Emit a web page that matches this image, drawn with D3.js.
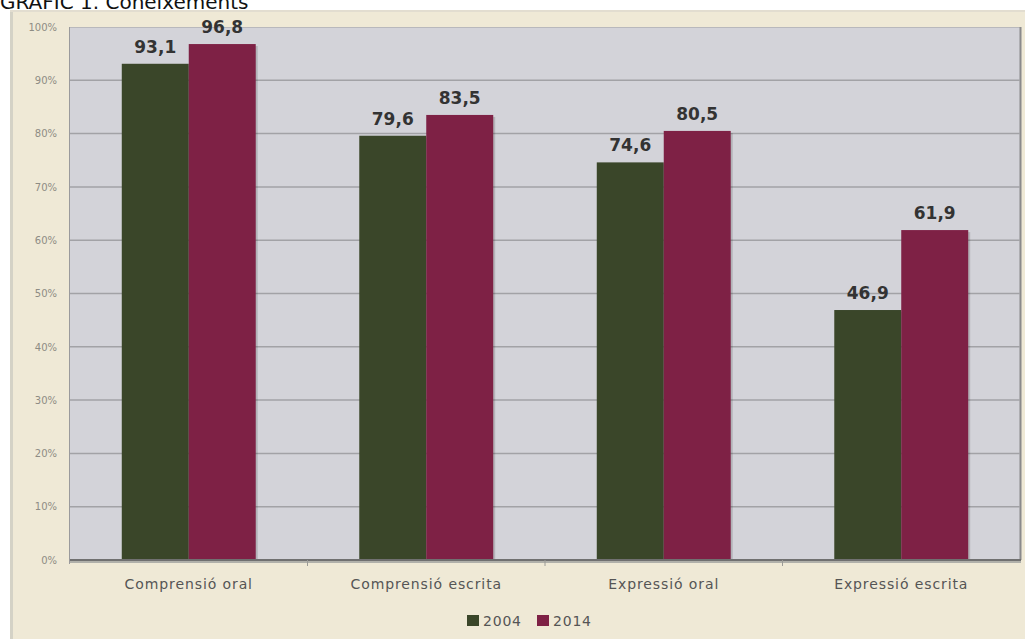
<!DOCTYPE html>
<html>
<head>
<meta charset="utf-8">
<script src="https://cdn.jsdelivr.net/npm/d3@7"></script>
<style>
  html, body { margin: 0; padding: 0; background: #ffffff; }
  svg { display: block; }
</style>
</head>
<body>
<svg id="chart" width="1025" height="639"></svg>
<script>
const title = "GRÀFIC 1. Coneixements";
const categories = ["Comprensió oral", "Comprensió escrita", "Expressió oral", "Expressió escrita"];
const seriesNames = ["2004", "2014"];
const values2004 = [93.1, 79.6, 74.6, 46.9];
const values2014 = [96.8, 83.5, 80.5, 61.9];
const yTicks = [0, 10, 20, 30, 40, 50, 60, 70, 80, 90, 100];
const colors = ["#3a4629", "#7e2145"];

const svg = d3.select("#chart");
const W = 1025, H = 639;
const plot = { left: 70, right: 1020, top: 27, bottom: 560 };

// title (partly cut at top, as in the reference)
svg.append("text").attr("x", 0).attr("y", 9)
  .attr("font-family", "DejaVu Sans, sans-serif").attr("font-size", 20)
  .attr("fill", "#111").text(title);

// outer beige box
svg.append("rect").attr("x", 10).attr("y", 10).attr("width", W - 10).attr("height", H - 10)
  .attr("fill", "#efe9d6");
svg.append("rect").attr("x", 10).attr("y", 10).attr("width", 3).attr("height", H - 10)
  .attr("fill", "#d4d2c6");
svg.append("rect").attr("x", 10).attr("y", 10).attr("width", W - 10).attr("height", 2)
  .attr("fill", "#e2ddd0");

const y = d3.scaleLinear().domain([0, 100]).range([plot.bottom, plot.top]);
const x0 = d3.scaleBand().domain(categories).range([plot.left, plot.right])
  .paddingInner(0.436).paddingOuter(0.218);
const x1 = d3.scaleBand().domain(seriesNames).range([0, x0.bandwidth()]);

// plot background
svg.append("rect").attr("x", plot.left).attr("y", plot.top)
  .attr("width", plot.right - plot.left).attr("height", plot.bottom - plot.top)
  .attr("fill", "#d3d3d9");
// plot borders
svg.append("line").attr("x1", plot.left).attr("x2", plot.right).attr("y1", plot.top + 0.5).attr("y2", plot.top + 0.5)
  .attr("stroke", "#b8b8bc").attr("stroke-width", 1);
svg.append("line").attr("x1", plot.right + 0.5).attr("x2", plot.right + 0.5).attr("y1", plot.top).attr("y2", plot.bottom)
  .attr("stroke", "#8a8a8c").attr("stroke-width", 2);
svg.append("line").attr("x1", plot.left - 0.5).attr("x2", plot.left - 0.5).attr("y1", plot.top).attr("y2", plot.bottom + 4)
  .attr("stroke", "#9a9a9c").attr("stroke-width", 1);

// gridlines
svg.append("g").selectAll("line").data(yTicks.filter(t => t > 0 && t < 100)).join("line")
  .attr("x1", plot.left).attr("x2", plot.right)
  .attr("y1", d => y(d)).attr("y2", d => y(d))
  .attr("stroke", "#a2a2a6").attr("stroke-width", 1.5);

// y axis labels
const yAxis = d3.axisLeft(y).tickValues(yTicks).tickFormat(d => d + "%").tickSize(0).tickPadding(13);
const gy = svg.append("g").attr("transform", `translate(${plot.left},0)`).call(yAxis);
gy.select(".domain").remove();
gy.selectAll("text").attr("font-family", "DejaVu Sans, sans-serif").attr("font-size", 10)
  .attr("fill", "#8e8c84");

// bars
const data = categories.map((c, i) => ({ cat: c, vals: [values2004[i], values2014[i]] }));
const groups = svg.append("g").selectAll("g").data(data).join("g")
  .attr("transform", d => `translate(${x0(d.cat)},0)`);

// shadow
groups.selectAll("rect.sh").data(d => d.vals.map((v, j) => ({ v, s: seriesNames[j], j }))).join("rect")
  .attr("class", "sh")
  .attr("x", d => x1(d.s) + 2).attr("y", d => y(d.v) + 2)
  .attr("width", x1.bandwidth()).attr("height", d => plot.bottom - y(d.v) - 2)
  .attr("fill", "rgba(0,0,0,0.15)");

groups.selectAll("rect.bar").data(d => d.vals.map((v, j) => ({ v, s: seriesNames[j], j }))).join("rect")
  .attr("class", "bar")
  .attr("x", d => x1(d.s)).attr("y", d => y(d.v))
  .attr("width", x1.bandwidth()).attr("height", d => plot.bottom - y(d.v))
  .attr("fill", d => colors[d.j]);

groups.selectAll("text.val").data(d => d.vals.map((v, j) => ({ v, s: seriesNames[j], j }))).join("text")
  .attr("class", "val")
  .attr("x", d => x1(d.s) + x1.bandwidth() / 2).attr("y", d => y(d.v) - 11)
  .attr("text-anchor", "middle")
  .attr("font-family", "DejaVu Sans, sans-serif").attr("font-weight", "bold").attr("font-size", 17)
  .attr("fill", "#333")
  .text(d => d3.format(".1f")(d.v).replace(".", ","));

// x axis
svg.append("line").attr("x1", plot.left).attr("x2", plot.right + 1).attr("y1", plot.bottom + 2).attr("y2", plot.bottom + 2)
  .attr("stroke", "#b0b0aa").attr("stroke-width", 2);
svg.append("line").attr("x1", plot.left).attr("x2", plot.right + 1).attr("y1", plot.bottom).attr("y2", plot.bottom)
  .attr("stroke", "#707070").attr("stroke-width", 2);

// category separators (ticks below axis)
const sepX = categories.slice(1).map(c => x0(c) - x0.step() * x0.paddingInner() / 2);
svg.append("g").selectAll("line").data(sepX).join("line")
  .attr("x1", d => d).attr("x2", d => d).attr("y1", plot.bottom).attr("y2", plot.bottom + 6)
  .attr("stroke", "#9a9a96").attr("stroke-width", 1);

// category labels
const xAxis = d3.axisBottom(x0).tickSize(0).tickPadding(19);
const gx = svg.append("g").attr("transform", `translate(0,${plot.bottom})`).call(xAxis);
gx.select(".domain").remove();
gx.selectAll("text").attr("font-family", "DejaVu Sans, sans-serif").attr("font-size", 14)
  .attr("letter-spacing", 0.9).attr("fill", "#555");

// legend
const legendItems = [{ name: "2004", x: 467 }, { name: "2014", x: 537 }];
const lg = svg.append("g").selectAll("g").data(seriesNames).join("g")
  .attr("transform", (d, i) => `translate(${legendItems[i].x},615)`);
lg.append("rect").attr("width", 12).attr("height", 11).attr("fill", (d, i) => colors[i]);
lg.append("text").attr("x", 16).attr("y", 11)
  .attr("font-family", "DejaVu Sans, sans-serif").attr("font-size", 14).attr("letter-spacing", 0.8)
  .attr("fill", "#555")
  .text(d => d);
</script>
</body>
</html>
